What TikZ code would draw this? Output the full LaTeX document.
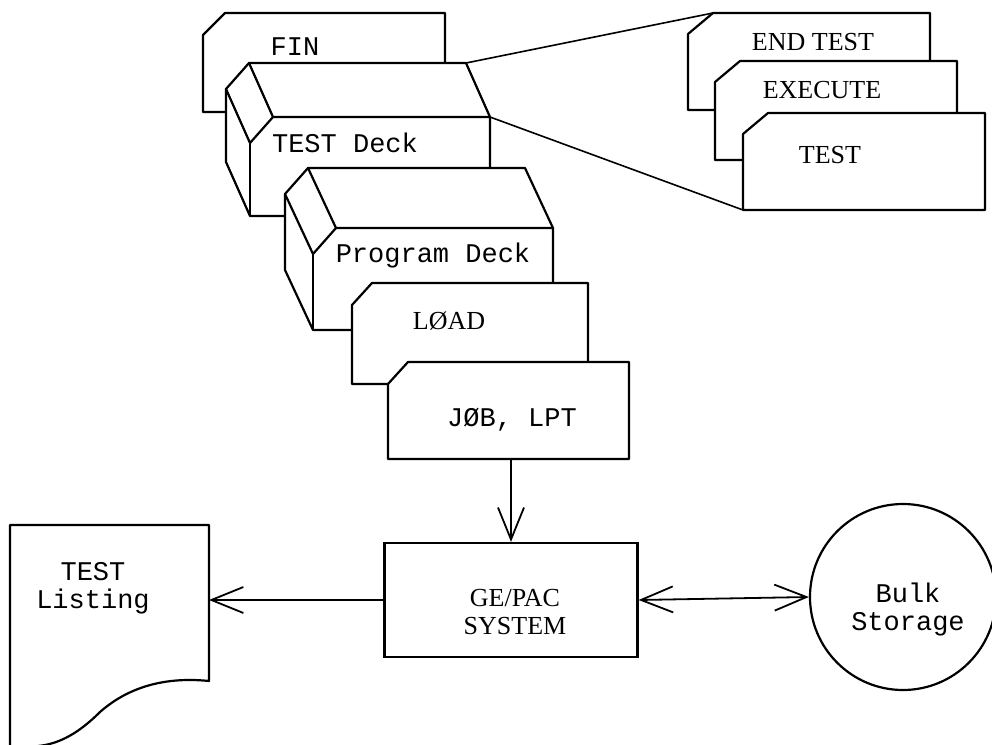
\documentclass[tikz,border=0pt]{standalone}
\usepackage{fontspec}
\setmainfont{Liberation Serif}
\setmonofont{Liberation Mono}
\usetikzlibrary{arrows.meta,positioning}
\tikzset{>={Straight Barb[length=16pt,width=13pt,line width=0.9pt]}}
\tikzset{
  card/.style={draw, fill=white, line width=1.1pt, line join=round},
  edge/.style={line width=1.1pt, line join=round},
  flow/.style={line width=0.9pt},
  zoomline/.style={line width=0.8pt},
  tt/.style={font=\ttfamily\fontsize{13.5}{14}\selectfont, inner sep=0pt},
  rm/.style={font=\fontsize{13}{14}\selectfont, inner sep=0pt},
  sysbox/.style={draw, line width=1.1pt, minimum width=126.5pt, minimum height=57pt, inner sep=0pt},
  store/.style={draw, circle, line width=1.1pt, minimum size=93pt, inner sep=0pt}
}

\begin{document}
\begin{tikzpicture}[x=0.5pt,y=-0.5pt]
            \useasboundingbox (0,0) rectangle (992,745);

            % card behind the test deck
            \draw[card] (225,13) -- (445,13) -- (445,112) -- (203,112) -- (203,35) -- cycle;

            % the two decks, front card plus its edge
            \foreach \l/\t/\r/\b/\dx/\dy in {250/117/490/216/24/54, 313/228/553/330/28/60}
            {
            \draw[card] ({\l+23-\dx},{\t-\dy}) -- ({\r-\dx},{\t-\dy}) -- (\r,\t) -- (\r,\b) -- (\l,\b)
                -- ({\l-\dx},{\b-\dy}) -- ({\l-\dx},{\t+26-\dy}) -- cycle;
            \draw[edge] ({\l+23-\dx},{\t-\dy}) -- ({\l+23},\t) -- (\r,\t);
            \draw[edge] ({\l-\dx},{\t+26-\dy}) -- (\l,{\t+26}) -- ({\l+23},\t);
            \draw[edge] (\l,{\t+26}) -- (\l,\b);
            }

            % LOAD and JOB cards
            \foreach \l/\t/\r/\b in {352/283/588/384, 388/362/629/459}
            {
            \draw[card] ({\l+20},\t) -- (\r,\t) -- (\r,\b) -- (\l,\b) -- (\l,{\t+22}) -- cycle;
            }

            % contents of the test deck
            \coordinate (deckback) at (466,63);
            \coordinate (deckfront) at (490,117);
            \coordinate (endcorner) at (713,13);
            \coordinate (testcorner) at (743,210);
            \draw[zoomline] (deckback) -- (endcorner);
            \draw[zoomline] (deckfront) -- (testcorner);
            \foreach \l/\t/\r/\b in {688/13/930/110, 715/61/957/160, 743/113/985/210}
            {
            \draw[card] ({\l+25},\t) -- (\r,\t) -- (\r,\b) -- (\l,\b) -- (\l,{\t+21}) -- cycle;
            }

            \node[tt, anchor=base] (fin) at (295,55) {FIN};
            \node[tt, anchor=base] (testdeck) at (345,152) {TEST Deck};
            \node[tt, anchor=base] (progdeck) at (433,262) {Program Deck};
            \node[rm, anchor=base] (load) at (449,329) {LØAD};
            \node[tt, anchor=base] (job) at (512,426) {JØB, LPT};
            \node[rm, anchor=base] (endtest) at (813,50) {END TEST};
            \node[rm, anchor=base] (execute) at (822,98) {EXECUTE};
            \node[rm, anchor=base] (test) at (830,163) {TEST};

            % system, storage and printout
            \node[sysbox] (gepac) at (511,600) {};
            \node[rm, align=center] (gepactext) at (515,612) {GE/PAC\\SYSTEM};
            \node[store] (bulk) at (903,597) {};
            \node[tt, align=center] (bulktext) at (908,610) {Bulk\\Storage};

            \draw[edge, line join=round] (38,746) .. controls (60,744) and (80,732) .. (100,712)
                .. controls (125,690) and (160,676) .. (209,681) -- (209,525) -- (10,525) -- (10,746);
            \node[tt, align=center] (listing) at (93,588) {TEST\\Listing};
            \coordinate (listingin) at (209,600);
            \coordinate (jobout) at (511,459);

            \draw[flow,->] (jobout) -- (gepac.north);
            \draw[flow,->] (gepac.west) -- (listingin);
            \draw[flow,<->] (gepac.east) -- (bulk.west);

\end{tikzpicture}
\end{document}
